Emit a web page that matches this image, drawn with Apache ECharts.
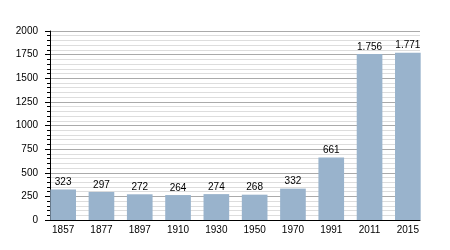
<!DOCTYPE html>
<html>
<head>
<meta charset="utf-8">
<script src="https://cdn.jsdelivr.net/npm/echarts@6/dist/echarts.min.js"></script>
<style>
html,body{margin:0;padding:0;background:#fff;}
#c{width:450px;height:250px;}
</style>
</head>
<body>
<div id="c"></div>
<script>
var years = ['1857','1877','1897','1910','1930','1950','1970','1991','2011','2015'];
var population = [323, 297, 272, 264, 274, 268, 332, 661, 1756, 1771];
var yTicks = [0, 250, 500, 750, 1000, 1250, 1500, 1750, 2000];

function fmt(v){
  return String(v).replace(/\B(?=(\d{3})+(?!\d))/g, '.');
}

var chart = echarts.init(document.getElementById('c'), null, {renderer:'canvas'});
var font = 'Liberation Sans, Arial, sans-serif';
chart.setOption({
  animation: false,
  backgroundColor: '#fff',
  grid: [
    {left: 50, right: 30, top: 31, bottom: 30},
    {left: 44, right: 23, top: 31, bottom: 30}
  ],
  xAxis: [
    {gridIndex: 0, type: 'value', min: 0, max: 1,
     axisLine: {show: true, lineStyle: {color: '#000', width: 1}},
     axisTick: {show: false}, axisLabel: {show: false}, splitLine: {show: false}},
    {gridIndex: 1, type: 'category', data: years,
     axisLine: {show: false}, axisTick: {show: false},
     axisLabel: {fontSize: 10, color: '#000', fontFamily: font, margin: 5}}
  ],
  yAxis: [
    {gridIndex: 0, type: 'value', min: yTicks[0], max: yTicks[yTicks.length-1], interval: 250,
     axisLine: {show: true, lineStyle: {color: '#000', width: 1}},
     axisTick: {show: true, length: 5, lineStyle: {color: '#000'}},
     minorTick: {show: true, splitNumber: 5, length: 3, lineStyle: {color: '#000'}},
     axisLabel: {fontSize: 10, color: '#000', fontFamily: font, margin: 12,
                 formatter: function(v){ return String(v); }},
     splitLine: {show: true, lineStyle: {color: '#aaaaaa', width: 1}},
     minorSplitLine: {show: true, lineStyle: {color: '#dddddd', width: 1}}},
    {gridIndex: 1, type: 'value', min: yTicks[0], max: yTicks[yTicks.length-1], show: false,
     splitLine: {show: false}}
  ],
  series: [{
    type: 'bar',
    xAxisIndex: 1, yAxisIndex: 1,
    data: population,
    barCategoryGap: '33%',
    itemStyle: {color: '#99b3cc'},
    label: {show: true, position: 'top', distance: 2, fontSize: 10, color: '#000', fontFamily: font,
            formatter: function(p){ return fmt(p.value); }}
  }]
});
</script>
</body>
</html>
